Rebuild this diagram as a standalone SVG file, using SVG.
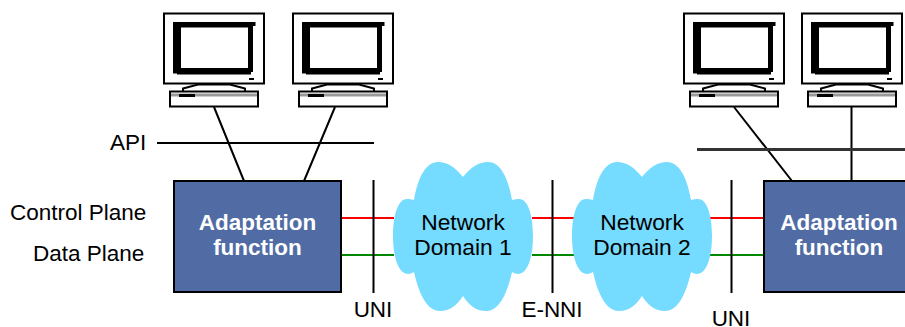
<svg xmlns="http://www.w3.org/2000/svg" width="905" height="327" viewBox="0 0 905 327">
<style>
text{font-family:"Liberation Sans",Arial,sans-serif;font-size:22.5px;fill:#000}
.b{font-weight:700;fill:#fff;text-anchor:middle}
.m{text-anchor:middle}
.n{font-size:22.8px}
.k{stroke:#000;stroke-width:2;fill:none}
.box{fill:#516ca4;stroke:#000;stroke-width:2}
.cl{fill:#75dbff}
.r{stroke:#f00;stroke-width:2}
.g{stroke:#080;stroke-width:2}
</style>
<defs>
<g id="pc">
<rect x="164" y="13.500" width="100" height="70" fill="#fff" stroke="#000" stroke-width="2"/>
<path d="M173 22h82.500v4h-2.500v46h-2v2.500h-74v-1h-4z" fill="#000"/>
<rect x="181" y="27.500" width="67" height="40.500" fill="#fff"/>
<rect x="249" y="78" width="5" height="2" fill="#000"/>
<path d="M183 88.500l15-4h32l15 4v3.500h-62z" fill="#fff" stroke="#000" stroke-width="2"/>
<rect x="170" y="91.500" width="88" height="15" fill="#fff" stroke="#000" stroke-width="2"/>
<path d="M171 95h86" stroke="#999" stroke-width="3"/>
<rect x="179" y="94" width="16" height="3" fill="#000"/>
</g>
<path id="cloud" d="M463 177C455 167 447 162 438 162C424 162 417 182 414 200C411 199 409 199 407 199C397 199 393 218 393 236C393 256 398 274 408 274C410 274 412 273 414 272C419 294 427 311 440 311C450 311 457 305 463 296C469 305 476 311 486 311C499 311 507 294 512 272C514 273 516 274 518 274C528 274 533 256 533 236C533 218 529 199 519 199C517 199 515 199 512 200C509 182 502 162 488 162C479 162 471 167 463 177Z"/>
</defs>
<g id="connectors">
<path class="r" d="M342 218H394M532 218H574M710 218H764"/>
<path class="g" d="M342 255H394M532 255H574M710 255H764"/>
<path class="k" d="M157 143H374M214 107L244 181M335 107L304 181M373.500 180V293M552.500 180V293M731.500 180V293M734 107L792 181M851.500 107V181"/>
<path d="M697 149.500H905" stroke="#333" stroke-width="3" fill="none"/>
</g>
<g id="pc1"><use href="#pc"/></g>
<g id="pc2"><use href="#pc" x="129"/></g>
<g id="pc3"><use href="#pc" x="520"/></g>
<g id="pc4"><use href="#pc" x="638"/></g>
<g id="adapt1"><rect class="box" x="174" y="181" width="167" height="111"/><text class="b" x="257.500" y="230">Adaptation</text><text class="b" x="257.500" y="255">function</text></g>
<g id="adapt2"><rect class="box" x="764" y="181" width="167" height="111"/><text class="b" x="839" y="230">Adaptation</text><text class="b" x="839" y="255">function</text></g>
<g id="domain1"><use href="#cloud" class="cl"/><text class="m n" x="463" y="229.500">Network</text><text class="m n" x="463" y="255">Domain 1</text></g>
<g id="domain2"><use href="#cloud" class="cl" x="179"/><text class="m n" x="642" y="229.500">Network</text><text class="m n" x="642" y="255">Domain 2</text></g>
<g id="labels">
<text x="110" y="150">API</text>
<text x="10" y="220">Control Plane</text>
<text x="33" y="261">Data Plane</text>
<text class="m" x="373" y="317">UNI</text>
<text class="m" x="552" y="317">E-NNI</text>
<text class="m" x="731" y="325.500">UNI</text>
</g>
</svg>
